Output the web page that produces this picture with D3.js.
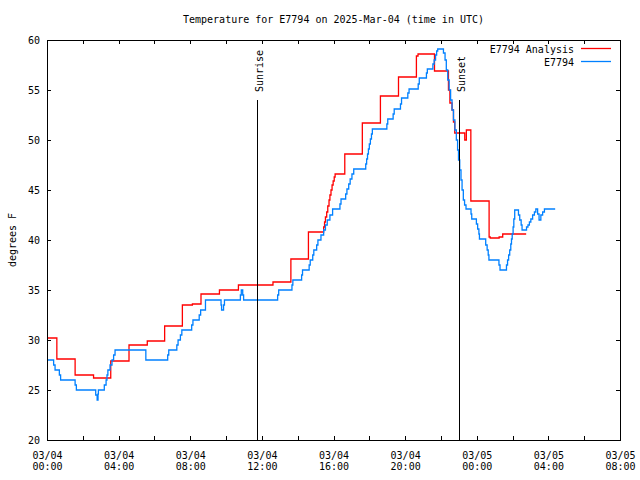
<!DOCTYPE html>
<html><head><meta charset="utf-8">
<script src="https://cdn.jsdelivr.net/npm/d3@7"></script>
<style>
body{margin:0;background:#fff;}
text{font-family:"DejaVu Sans Mono","Liberation Mono",monospace;font-size:10px;fill:#000;}
</style></head>
<body><svg id="c" width="640" height="480"></svg>
<script>
const title = "Temperature for E7794 on 2025-Mar-04 (time in UTC)";
const yLabel = "degrees F";
const seriesNames = ["E7794 Analysis", "E7794"];
const seriesColors = ["#ff0000", "#0080ff"];
const yTicks = [20, 25, 30, 35, 40, 45, 50, 55, 60];
const xStart = "2025-03-04T00:00:00Z", xEnd = "2025-03-05T08:00:00Z";
// hours since 03/04 00:00 UTC
const analysisHours = [0.00,0.55,1.57,2.60,3.56,4.58,5.60,6.57,7.56,8.12,8.60,9.63,10.69,12.62,13.62,14.60,15.38,15.45,15.50,15.55,15.62,15.68,15.75,15.80,15.86,15.92,15.98,16.04,16.09,16.63,17.61,18.62,19.63,20.63,20.72,21.64,22.42,22.50,22.62,22.70,22.77,23.33,23.42,23.67,24.69,24.75,25.25,25.45,26.76];
const analysisTemps = [30.2,28.1,26.5,26.2,27.9,29.5,29.9,31.4,33.5,33.6,34.6,35.0,35.5,35.8,38.1,40.8,40.8,41.3,41.8,42.3,42.8,43.4,44.0,44.5,45.0,45.5,45.9,46.3,46.6,48.6,51.7,54.4,56.3,58.4,58.6,56.9,55.0,53.7,53.0,51.8,50.7,50.0,51.0,43.9,40.3,40.2,40.3,40.6,40.6];
const obsHours = [0.00,0.37,0.45,0.69,0.76,1.57,1.64,2.72,2.80,2.85,2.87,3.20,3.30,3.35,3.40,3.52,3.63,3.72,3.80,5.52,6.74,6.80,7.25,7.32,7.45,7.53,8.08,8.15,8.50,8.58,8.85,9.72,9.75,9.86,9.91,10.80,10.85,10.93,10.98,12.88,12.94,13.68,13.73,14.22,14.27,14.64,14.70,14.84,14.90,15.06,15.13,15.30,15.45,15.55,15.65,15.80,15.95,16.36,16.42,16.68,16.75,16.85,16.93,17.03,17.13,17.80,17.85,17.90,17.95,18.00,18.06,18.12,18.17,18.98,19.03,19.33,19.39,19.74,19.80,20.15,20.22,20.73,20.79,21.19,21.24,21.55,21.62,21.70,21.76,21.82,22.14,22.23,22.30,22.38,22.46,22.54,22.62,22.70,22.78,22.86,22.93,22.98,23.05,23.12,23.18,23.25,23.32,23.40,23.68,23.72,23.98,24.05,24.12,24.15,24.50,24.58,24.64,24.68,25.24,25.30,25.66,25.72,25.78,25.84,25.90,25.94,25.98,26.03,26.07,26.12,26.33,26.40,26.48,26.53,26.78,26.86,26.94,27.02,27.12,27.22,27.30,27.40,27.48,27.58,27.68,27.78,28.38];
const obsTemps = [28.0,27.5,27.0,26.5,26.0,25.5,25.0,24.5,24.0,24.6,25.0,25.5,26.0,26.5,27.0,27.5,28.0,28.5,29.0,28.0,28.5,29.0,29.5,30.0,30.5,31.0,31.5,32.0,32.5,33.0,34.0,33.5,33.0,33.5,34.0,34.5,35.0,34.5,34.0,34.5,35.0,35.5,36.0,36.5,37.0,37.5,38.0,38.5,39.0,39.5,40.0,40.5,41.0,41.5,42.0,42.5,43.1,43.6,44.1,44.6,45.1,45.6,46.1,46.6,47.1,47.6,48.1,48.6,49.1,49.6,50.1,50.6,51.1,51.6,52.1,52.6,53.1,53.6,54.2,54.7,55.1,55.6,56.2,56.7,57.1,57.6,58.0,58.5,58.9,59.1,58.7,58.0,57.0,56.0,55.0,54.0,53.0,52.0,51.0,50.0,49.0,48.0,47.0,46.0,45.0,44.0,43.5,43.1,42.6,42.1,41.6,41.1,40.6,40.1,39.5,39.0,38.5,38.0,37.5,37.0,37.5,38.0,38.5,39.0,39.6,40.1,40.6,41.3,42.1,43.0,42.5,42.0,41.5,41.0,41.3,41.5,41.8,42.1,42.5,42.8,43.1,42.6,42.0,42.5,42.8,43.1,43.1];
const eventNames = ["Sunrise", "Sunset"];
const eventHours = [11.75, 23.03];
const eventTopTemp = 54;

const svg = d3.select("#c");
const L = 47, R = 620, T = 40, B = 440;
const t0 = new Date(xStart), t1 = new Date(xEnd);
const hr = h => new Date(t0.getTime() + h * 3600000);
const x = d3.scaleUtc().domain([t0, t1]).range([L, R]);
const y = d3.scaleLinear().domain([20, 60]).range([B, T]);

const minorTicks = d3.utcHour.every(2).range(t0, new Date(t1.getTime() + 1));
const majorTicks = d3.utcHour.every(4).range(t0, new Date(t1.getTime() + 1));

// ticks (inward, mirrored)
const g = svg.append("g").attr("shape-rendering", "crispEdges");
g.append("g").attr("transform", `translate(0,${B})`)
  .call(d3.axisBottom(x).tickValues(minorTicks).tickSizeInner(-4).tickSizeOuter(0).tickFormat(""))
  .call(s => s.select(".domain").remove());
g.append("g").attr("transform", `translate(0,${T})`)
  .call(d3.axisTop(x).tickValues(minorTicks).tickSizeInner(-4).tickSizeOuter(0).tickFormat(""))
  .call(s => s.select(".domain").remove());
g.append("g").attr("transform", `translate(${L},0)`)
  .call(d3.axisLeft(y).tickValues(yTicks).tickSizeInner(-4).tickSizeOuter(0).tickFormat(""))
  .call(s => s.select(".domain").remove());
g.append("g").attr("transform", `translate(${R},0)`)
  .call(d3.axisRight(y).tickValues(yTicks).tickSizeInner(-4).tickSizeOuter(0).tickFormat(""))
  .call(s => s.select(".domain").remove());

// y labels
svg.append("g").attr("transform", `translate(${L},0)`)
  .call(d3.axisLeft(y).tickValues(yTicks).tickSize(0).tickPadding(7).tickFormat(d3.format("d")))
  .call(s => s.select(".domain").remove());

// x labels (two lines)
const xl = svg.append("g").attr("transform", `translate(0,${B})`)
  .call(d3.axisBottom(x).tickValues(majorTicks).tickSize(0).tickFormat(""));
xl.select(".domain").remove();
xl.selectAll(".tick").each(function(d) {
  const t = d3.select(this).select("text").attr("y", 0).attr("dy", null);
  t.append("tspan").attr("x", 0).attr("y", 19).text(d3.utcFormat("%m/%d")(d));
  t.append("tspan").attr("x", 0).attr("y", 30).text(d3.utcFormat("%H:%M")(d));
});
svg.selectAll(".tick text").attr("font-family", null).attr("font-size", null);

// data lines
const line = d3.line().x(d => x(hr(d[0]))).y(d => y(d[1])).curve(d3.curveStepAfter);
const clipId = "clip";
svg.append("clipPath").attr("id", clipId).append("rect").attr("x", L).attr("y", T).attr("width", R - L).attr("height", B - T);
const series = [d3.zip(analysisHours, analysisTemps), d3.zip(obsHours, obsTemps)];
series.forEach((s, i) => {
  svg.append("path").attr("d", line(s)).attr("fill", "none")
    .attr("stroke", seriesColors[i]).attr("stroke-width", 1.3).attr("clip-path", `url(#${clipId})`);
});

// sunrise / sunset
eventHours.forEach((h, i) => {
  const ex = Math.round(x(hr(h))) + 0.5;
  svg.append("line").attr("x1", ex).attr("x2", ex).attr("y1", y(eventTopTemp)).attr("y2", B)
    .attr("stroke", "#000").attr("stroke-width", 1);
  svg.append("text").attr("transform", `translate(${ex + 2},${y(eventTopTemp) - 8}) rotate(-90)`)
    .attr("dominant-baseline", "central").text(eventNames[i]);
});

// border
svg.append("rect").attr("x", L + 0.5).attr("y", T + 0.5).attr("width", R - L).attr("height", B - T)
  .attr("fill", "none").attr("stroke", "#000").attr("stroke-width", 1);

// title
svg.append("text").attr("x", (L + R) / 2).attr("y", 23).attr("text-anchor", "middle").text(title);
// y label
svg.append("text").attr("transform", `translate(12,240) rotate(-90)`).attr("text-anchor", "middle")
  .attr("dominant-baseline", "central").text(yLabel);

// legend
seriesNames.forEach((n, i) => {
  const ly = 49 + i * 13;
  svg.append("text").attr("x", 574).attr("y", ly).attr("text-anchor", "end").attr("dominant-baseline", "central").text(n);
  svg.append("line").attr("x1", 581).attr("x2", 611).attr("y1", ly - 0.5).attr("y2", ly - 0.5)
    .attr("stroke", seriesColors[i]).attr("stroke-width", 1.3);
});
</script></body></html>
